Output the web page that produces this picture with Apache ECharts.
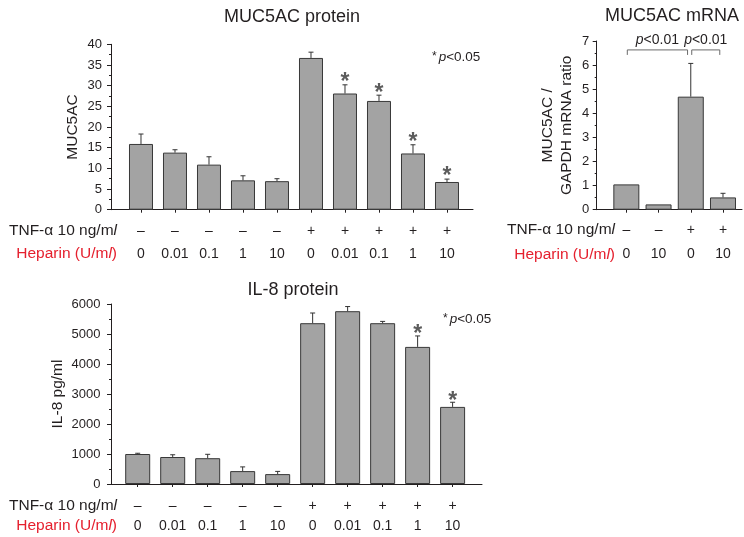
<!DOCTYPE html>
<html>
<head>
<meta charset="utf-8">
<script src="https://cdn.jsdelivr.net/npm/echarts@6/dist/echarts.min.js"></script>
<style>
  html, body { margin: 0; padding: 0; background: #fff; }
  #chart { width: 744px; height: 537px; }
</style>
</head>
<body>
<div id="chart"></div>
<script>
// ---- data ----
// MUC5AC protein (10 treatment groups)
const proteinTnf = ['–', '–', '–', '–', '–', '+', '+', '+', '+', '+'];
const proteinHeparin = ['0', '0.01', '0.1', '1', '10', '0', '0.01', '0.1', '1', '10'];
const mucProtein = [15.9, 13.8, 10.9, 7.1, 6.9, 36.7, 28.1, 26.3, 13.6, 6.7];
const mucProteinSd = [2.4, 0.7, 1.9, 1.1, 0.6, 1.4, 2.1, 1.4, 2.1, 0.7];
const mucProteinSig = [0, 0, 0, 0, 0, 0, 1, 1, 1, 1];
const mucProteinTicks = { max: 40, interval: 5 };

// MUC5AC mRNA (4 groups)
const mrnaTnf = ['–', '–', '+', '+'];
const mrnaHeparin = ['0', '10', '0', '10'];
const mucMrna = [1.05, 0.22, 4.69, 0.51];
const mucMrnaSd = [0, 0, 1.38, 0.17];
const mucMrnaSig = [0, 0, 0, 0];
const mucMrnaTicks = { max: 7, interval: 1 };
const mrnaComparisons = [[0, 2], [2, 3]];
const mrnaComparisonText = ['p<0.01', 'p<0.01'];

// IL-8 protein (10 groups)
const il8 = [1000, 900, 860, 430, 330, 5360, 5760, 5360, 4570, 2570];
const il8Sd = [25, 75, 130, 140, 90, 340, 155, 60, 365, 155];
const il8Sig = [0, 0, 0, 0, 0, 0, 0, 0, 1, 1];
const il8Ticks = { max: 6000, interval: 1000 };

// ---- styling ----
const FONT = '"Liberation Sans", Arial, Helvetica, sans-serif';
const INK = '#231f20';
const RED = '#e5202e';
const BAR_FILL = '#a3a3a3';
const BAR_EDGE = '#383838';
const STAR = '#5c5c5c';

const chart = echarts.init(document.getElementById('chart'), null, { renderer: 'canvas' });

const grids = [], xAxes = [], yAxes = [], series = [];

// upper error whisker with cap, plus a significance star when flagged
function errorRenderer(starGap) {
  return function (params, api) {
    const i = api.value(0), v = api.value(1), e = api.value(2), s = api.value(3);
    const base = api.coord([i, v]);
    const top = api.coord([i, v + e]);
    const children = [];
    const style = { stroke: '#333', lineWidth: 1 };
    if (e > 0) {
      children.push({ type: 'line', shape: { x1: base[0], y1: base[1], x2: top[0], y2: top[1] }, style });
      children.push({ type: 'line', shape: { x1: top[0] - 2.5, y1: top[1], x2: top[0] + 2.5, y2: top[1] }, style });
    }
    if (s) {
      children.push({
        type: 'text',
        style: {
          text: '*', x: top[0], y: top[1] - starGap,
          fill: STAR, fontSize: 23, fontWeight: 'bold', fontFamily: FONT,
          align: 'center', verticalAlign: 'middle'
        }
      });
    }
    return { type: 'group', children };
  };
}

function addPanel(p) {
  const gi = grids.length;
  grids.push({ left: p.left, top: p.top, width: p.width, height: p.height, outerBoundsMode: 'none' });
  const idx = p.values.map((_, i) => i);
  xAxes.push({
    gridIndex: gi, type: 'value', min: p.xMin, max: p.xMax,
    axisLine: { show: true, onZero: false, lineStyle: { color: INK, width: 1 } },
    axisTick: { show: true, customValues: idx, length: 3, lineStyle: { color: INK } },
    axisLabel: {
      customValues: idx, margin: p.labelMargin, color: INK,
      formatter: v => '{s|' + p.tnf[v] + '}\n{h|' + p.heparin[v] + '}',
      rich: {
        s: { fontSize: 14, fontFamily: FONT, color: INK, lineHeight: p.rowGap },
        h: { fontSize: 14, fontFamily: FONT, color: INK, lineHeight: p.rowGap }
      }
    },
    splitLine: { show: false }
  });
  yAxes.push({
    gridIndex: gi, type: 'value', min: 0, max: p.ticks.max, interval: p.ticks.interval,
    axisLine: { show: true, onZero: false, lineStyle: { color: INK, width: 1 } },
    axisTick: { show: true, length: 4, lineStyle: { color: INK } },
    minorTick: { show: true, splitNumber: 2, length: 2, lineStyle: { color: INK } },
    splitLine: { show: false },
    axisLabel: {
      fontSize: 13, fontFamily: FONT, color: INK, margin: p.yLabelMargin,
      formatter: v => String(v)
    },
    name: p.yName, nameLocation: 'middle', nameGap: p.nameGap,
    nameTextStyle: { fontSize: 15.5, fontFamily: FONT, color: INK, lineHeight: 19 }
  });
  series.push({
    type: 'bar', xAxisIndex: gi, yAxisIndex: gi, barWidth: p.barWidth,
    data: p.values.map((v, i) => [i, v]),
    itemStyle: { color: BAR_FILL, borderColor: BAR_EDGE, borderWidth: 1 },
    silent: true
  });
  series.push({
    type: 'custom', xAxisIndex: gi, yAxisIndex: gi, z: 5, silent: true,
    data: p.values.map((v, i) => [i, v, p.sd[i], p.sig[i]]),
    encode: { x: 0, y: 1 },
    renderItem: errorRenderer(p.starGap)
  });
  return gi;
}

addPanel({
  left: 111, top: 44.3, width: 362, height: 165.4, xMin: -0.882, xMax: 9.765,
  barWidth: 24, labelMargin: 10, rowGap: 23, yLabelMargin: 9, nameGap: 29, starGap: 2,
  tnf: proteinTnf, heparin: proteinHeparin, values: mucProtein, sd: mucProteinSd,
  sig: mucProteinSig, ticks: mucProteinTicks, yName: 'MUC5AC'
});
const mrnaGrid = addPanel({
  left: 596.7, top: 41, width: 145.3, height: 168.7, xMin: -0.92, xMax: 3.59,
  barWidth: 26, labelMargin: 8, rowGap: 24.5, yLabelMargin: 7.5, nameGap: 20, starGap: 2,
  tnf: mrnaTnf, heparin: mrnaHeparin, values: mucMrna, sd: mucMrnaSd,
  sig: mucMrnaSig, ticks: mucMrnaTicks, yName: 'MUC5AC /\nGAPDH mRNA ratio'
});
addPanel({
  left: 111, top: 304, width: 371, height: 180, xMin: -0.763, xMax: 9.84,
  barWidth: 25, labelMargin: 12, rowGap: 20, yLabelMargin: 10.5, nameGap: 40, starGap: 1,
  tnf: proteinTnf, heparin: proteinHeparin, values: il8, sd: il8Sd,
  sig: il8Sig, ticks: il8Ticks, yName: 'IL-8 pg/ml'
});

// significance brackets over the mRNA panel
const BRACKET_LEVEL = 6.63;
series.push({
  type: 'custom', xAxisIndex: mrnaGrid, yAxisIndex: mrnaGrid, z: 6, silent: true,
  data: mrnaComparisons,
  encode: { x: [0, 1] },
  renderItem: function (params, api) {
    const a = api.value(0), b = api.value(1);
    const l = api.coord([a + 0.03, BRACKET_LEVEL]);
    const r = api.coord([b - 0.1, BRACKET_LEVEL]);
    const st = { stroke: '#6b6b6b', lineWidth: 1, fill: null };
    return {
      type: 'group',
      children: [
        { type: 'polyline', shape: { points: [[l[0], l[1] + 5], [l[0], l[1]], [r[0], r[1]], [r[0], r[1] + 5]] }, style: st },
        {
          type: 'text',
          style: {
            text: '{i|p}{n|' + mrnaComparisonText[params.dataIndex].slice(1) + '}',
            x: (l[0] + r[0]) / 2, y: l[1] - 10, align: 'center', verticalAlign: 'middle',
            rich: {
              i: { fontSize: 14, fontFamily: FONT, fontStyle: 'italic', fill: INK },
              n: { fontSize: 14, fontFamily: FONT, fill: INK }
            }
          }
        }
      ]
    };
  }
});

function rowHeader(x, y, main, tail, color) {
  return {
    type: 'text', x: x, y: y, silent: true,
    style: {
      text: '{a|' + main + '}{b|l}{a|' + tail + '}',
      align: 'right', verticalAlign: 'middle',
      rich: {
        a: { fontSize: 15.5, fontFamily: FONT, fill: color },
        b: { fontSize: 15.5, fontFamily: FONT, fontStyle: 'italic', fill: color }
      }
    }
  };
}
function pNote(x, y) {
  return {
    type: 'text', x: x, y: y, silent: true,
    style: {
      text: '{s|*}{i|p}{n|<0.05}', align: 'left', verticalAlign: 'middle',
      rich: {
        s: { fontSize: 12, fontFamily: FONT, fill: INK, padding: [0, 2, 0, 0] },
        i: { fontSize: 13.5, fontFamily: FONT, fontStyle: 'italic', fill: INK },
        n: { fontSize: 13.5, fontFamily: FONT, fill: INK }
      }
    }
  };
}

const graphics = [
  rowHeader(117, 231, 'TNF-α 10 ng/m', '', INK),
  rowHeader(117, 254, 'Heparin (U/m', ')', RED),
  rowHeader(615, 230, 'TNF-α 10 ng/m', '', INK),
  rowHeader(615, 255, 'Heparin (U/m', ')', RED),
  rowHeader(117, 505.5, 'TNF-α 10 ng/m', '', INK),
  rowHeader(117, 526, 'Heparin (U/m', ')', RED),
  pNote(432, 57),
  pNote(443, 319)
];

const titleStyle = { fontSize: 18, fontFamily: FONT, color: INK, fontWeight: 'normal' };
chart.setOption({
  animation: false,
  backgroundColor: '#fff',
  title: [
    { text: 'MUC5AC protein', left: 292, top: 8, textAlign: 'center', textStyle: titleStyle, padding: 0 },
    { text: 'MUC5AC mRNA', left: 672, top: 7, textAlign: 'center', textStyle: titleStyle, padding: 0 },
    { text: 'IL-8 protein', left: 293, top: 281, textAlign: 'center', textStyle: titleStyle, padding: 0 }
  ],
  grid: grids,
  xAxis: xAxes,
  yAxis: yAxes,
  series: series,
  graphic: graphics
});
</script>
</body>
</html>
